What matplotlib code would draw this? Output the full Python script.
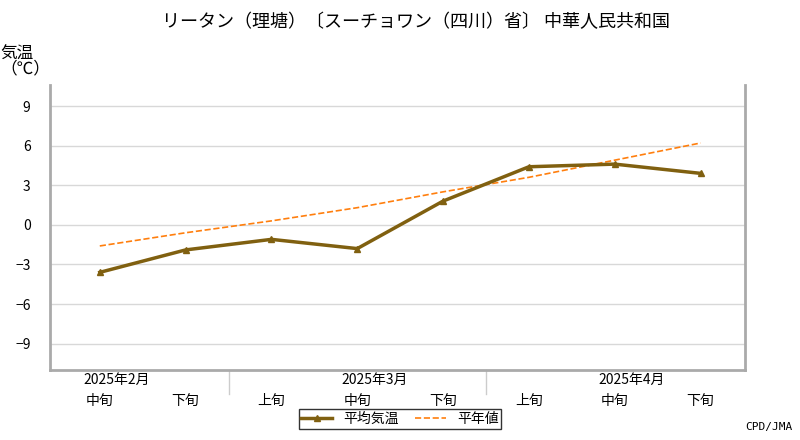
import matplotlib.pyplot as plt
import numpy as np

plt.rcParams['font.family'] = 'Noto Sans CJK JP'

periods = ["中旬", "下旬", "上旬", "中旬", "下旬", "上旬", "中旬", "下旬"]
months = ["2025年2月", "2025年3月", "2025年4月"]
month_pos = [0.2, 3.2, 6.2]
mean_temp = [-3.6, -1.9, -1.1, -1.8, 1.8, 4.4, 4.6, 3.9]
normal_temp = [-1.6, -0.6, 0.3, 1.3, 2.5, 3.6, 4.9, 6.2]

fig = plt.figure(figsize=(8, 4.4), dpi=100)
ax = fig.add_axes([0.0625, 0.159, 0.869, 0.648])
x = np.arange(len(periods))

ax.plot(x, mean_temp, '-', color='#806010', lw=2.5, marker='^', ms=5, label='平均気温', zorder=4)
ax.plot(x, normal_temp, '--', color='#ff7f0e', lw=1.2, label='平年値', zorder=3)

ax.set_xlim(-0.58, 7.52)
ax.set_ylim(-11, 10.6)
ax.set_yticks([-9, -6, -3, 0, 3, 6, 9])
ax.yaxis.grid(True, color='#d8d8d8', lw=1)
ax.set_axisbelow(True)
ax.tick_params(axis='y', length=0, labelsize=10, pad=14)
ax.tick_params(axis='x', length=0, labelsize=10, pad=17)
ax.set_xticks(x)
ax.set_xticklabels(periods)
for p, m in zip(month_pos, months):
    ax.text(p, -11.25, m, ha='center', va='top', fontsize=10)
for s in [1.5, 4.5]:
    ax.plot([s, s], [-11, -12.8], color='#cccccc', lw=1, clip_on=False)

ax.spines['top'].set_visible(False)
for s in ['left', 'bottom', 'right']:
    ax.spines[s].set_color('#aaaaaa')
    ax.spines[s].set_linewidth(2)

fig.text(0.52, 0.95, "リータン（理塘）〔スーチョワン（四川）省〕 中華人民共和国",
         ha='center', va='center', fontsize=13)
fig.text(0.0, 0.86, "気温\n（℃）", ha='left', va='center', fontsize=12, linespacing=0.85)
fig.text(0.99, 0.03, "CPD/JMA", ha='right', va='center', fontsize=8, family='DejaVu Sans Mono')

fig.legend(loc='center', bbox_to_anchor=(0.5, 0.048), ncol=2, fontsize=10,
           frameon=True, fancybox=False, edgecolor='black', handlelength=2.2,
           borderpad=0.2, columnspacing=1.2)

fig.savefig('out.png', dpi=100)
